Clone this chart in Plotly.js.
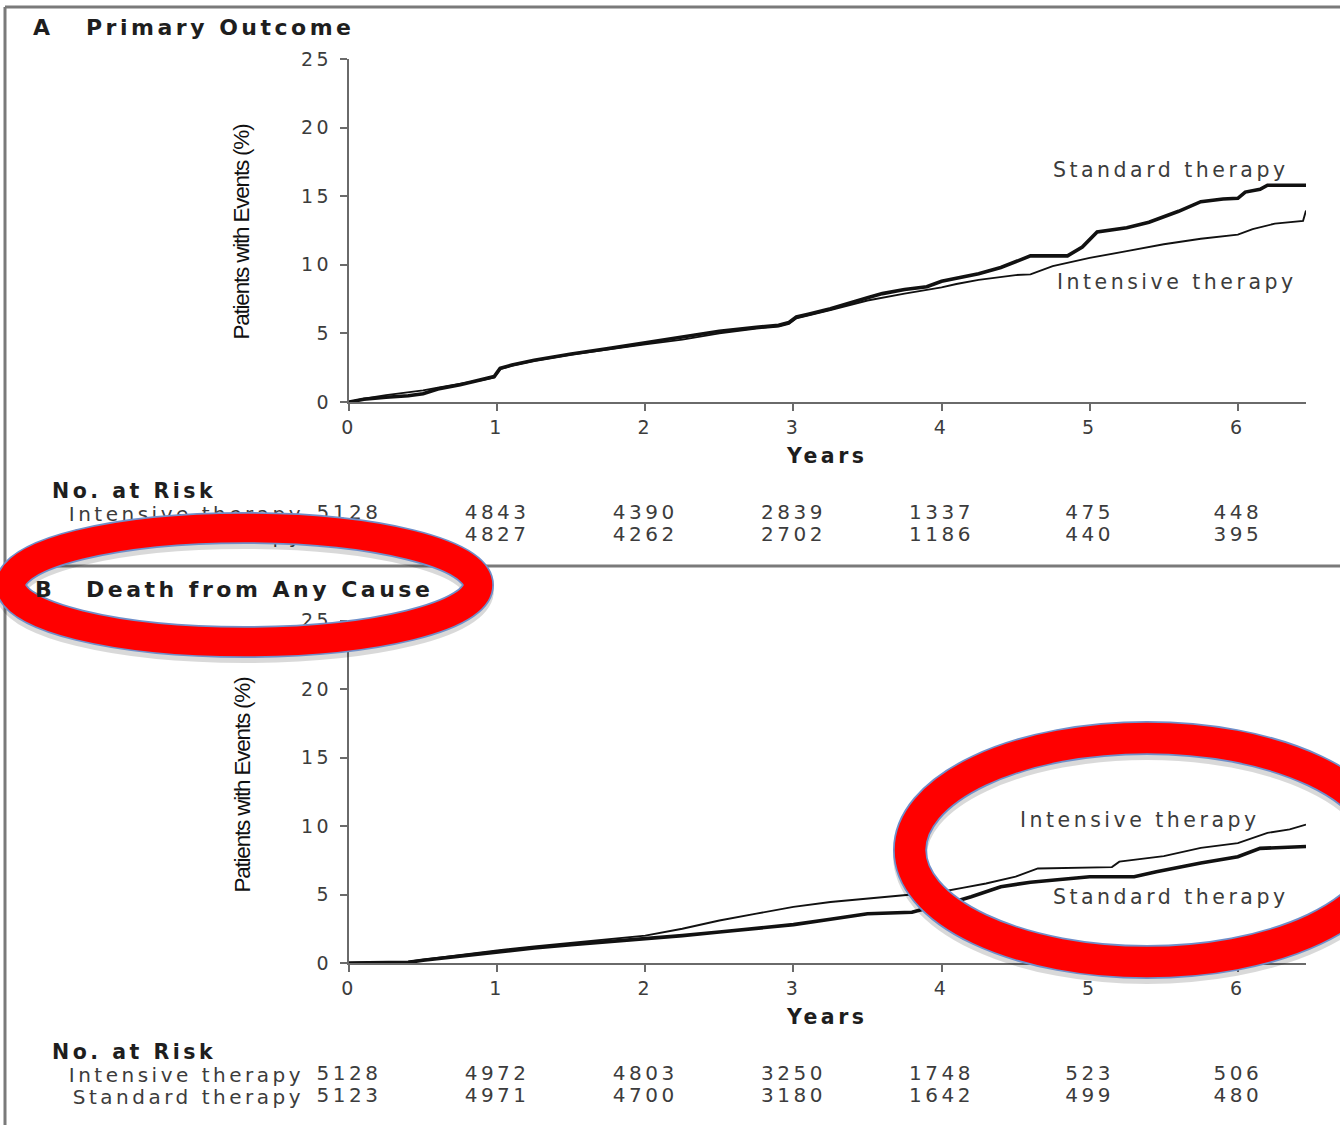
<!DOCTYPE html>
<html>
<head>
<meta charset="utf-8">
<script src="https://cdn.plot.ly/plotly-3.0.1.min.js"></script>
<style>
  html, body { margin: 0; padding: 0; background: #fff; }
  #chart { width: 1340px; height: 1125px; }
  svg text { letter-spacing: 3.5px; }
  .annotation[data-index="0"] text, .annotation[data-index="1"] text { letter-spacing: -1.2px; }
</style>
</head>
<body>
<div id="chart"></div>
<script>
// ---------- Data ----------
const panelTitles = ['Primary Outcome', 'Death from Any Cause'];
const groupNames = ['Intensive therapy', 'Standard therapy'];
const yTitle = 'Patients with Events (%)';
const xTitle = 'Years';
const xTicks = [0, 1, 2, 3, 4, 5, 6];
const yTicks = [0, 5, 10, 15, 20, 25];

// Panel A: Primary outcome (cumulative %)
const aStdYears = [0, 0.1, 0.25, 0.4, 0.5, 0.6, 0.75, 0.9, 0.98, 1.02, 1.1, 1.25, 1.4, 1.5, 1.75, 2.0, 2.25, 2.5, 2.75, 2.9, 2.97, 3.02, 3.1, 3.25, 3.5, 3.6, 3.75, 3.9, 4.0, 4.1, 4.25, 4.4, 4.5, 4.6, 4.85, 4.95, 5.05, 5.25, 5.4, 5.5, 5.6, 5.75, 5.9, 6.0, 6.05, 6.15, 6.2, 6.46];
const aStdPct   = [0, 0.2, 0.35, 0.45, 0.6, 0.95, 1.25, 1.6, 1.85, 2.45, 2.7, 3.05, 3.35, 3.5, 3.9, 4.3, 4.7, 5.15, 5.45, 5.6, 5.8, 6.2, 6.4, 6.8, 7.6, 7.9, 8.2, 8.4, 8.8, 9.0, 9.35, 9.8, 10.2, 10.65, 10.65, 11.3, 12.4, 12.7, 13.1, 13.5, 13.9, 14.6, 14.8, 14.85, 15.3, 15.5, 15.8, 15.8];
const aIntYears = [0, 0.1, 0.25, 0.4, 0.5, 0.6, 0.75, 0.9, 0.98, 1.02, 1.1, 1.25, 1.5, 1.75, 2.0, 2.25, 2.5, 2.75, 2.9, 2.97, 3.02, 3.25, 3.5, 3.75, 4.0, 4.1, 4.25, 4.5, 4.6, 4.75, 5.0, 5.25, 5.5, 5.75, 6.0, 6.1, 6.25, 6.44, 6.46];
const aIntPct   = [0, 0.25, 0.5, 0.7, 0.85, 1.05, 1.3, 1.6, 1.8, 2.4, 2.65, 3.0, 3.45, 3.85, 4.2, 4.55, 5.0, 5.35, 5.5, 5.7, 6.1, 6.7, 7.4, 7.9, 8.35, 8.6, 8.9, 9.25, 9.3, 9.9, 10.5, 11.0, 11.5, 11.9, 12.2, 12.6, 13.0, 13.2, 13.95];

// Panel B: Death from any cause (cumulative %)
const bIntYears = [0, 0.4, 0.5, 0.75, 1.0, 1.25, 1.5, 1.75, 2.0, 2.25, 2.5, 2.75, 3.0, 3.25, 3.5, 3.75, 4.0, 4.15, 4.3, 4.5, 4.65, 5.15, 5.2, 5.5, 5.75, 6.0, 6.2, 6.35, 6.46];
const bIntPct   = [0, 0.1, 0.25, 0.6, 0.92, 1.2, 1.48, 1.75, 2.0, 2.5, 3.1, 3.6, 4.1, 4.45, 4.7, 5.0, 5.2, 5.5, 5.8, 6.3, 6.9, 7.0, 7.4, 7.8, 8.4, 8.75, 9.5, 9.75, 10.1];
const bStdYears = [0, 0.4, 0.5, 0.75, 1.0, 1.25, 1.5, 1.75, 2.0, 2.25, 2.5, 2.75, 3.0, 3.25, 3.5, 3.8, 3.9, 4.0, 4.2, 4.4, 4.6, 5.0, 5.3, 5.45, 5.75, 6.0, 6.15, 6.46];
const bStdPct   = [0, 0.05, 0.2, 0.5, 0.85, 1.1, 1.34, 1.55, 1.73, 2.0, 2.26, 2.5, 2.8, 3.2, 3.6, 3.7, 4.0, 4.2, 4.84, 5.57, 5.9, 6.3, 6.3, 6.66, 7.3, 7.76, 8.37, 8.5];

// Numbers at risk
const riskYears = [0, 1, 2, 3, 4, 5, 6];
const aRiskInt = [5128, 4843, 4390, 2839, 1337, 475, 448];
const aRiskStd = [5123, 4827, 4262, 2702, 1186, 440, 395];
const bRiskInt = [5128, 4972, 4803, 3250, 1748, 523, 506];
const bRiskStd = [5123, 4971, 4700, 3180, 1642, 499, 480];

// ---------- Styling ----------
const W = 1340, H = 1125;
const px = v => v / W;
const py = v => 1 - v / H;
const FONT = 'DejaVu Sans, Verdana, sans-serif';
const TXT = '#3c3c3c';
const AXC = '#6a6a6a';
const XDOM = [px(349), px(1306)];
const XRANGE = [0, 6.46];

function lineTrace(x, y, xa, ya, width) {
  return { type: 'scatter', mode: 'lines', x: x, y: y, xaxis: xa, yaxis: ya,
           line: { color: '#111', width: width, shape: 'linear' }, hoverinfo: 'skip', showlegend: false };
}
function riskTrace(vals, row, xa, ya) {
  return { type: 'scatter', mode: 'text', x: riskYears, y: riskYears.map(() => row), text: vals.map(String),
           xaxis: xa, yaxis: ya, textposition: 'middle center', cliponaxis: false,
           textfont: { family: FONT, size: 20, color: TXT }, hoverinfo: 'skip', showlegend: false };
}

const traces = [
  lineTrace(aIntYears, aIntPct, 'x', 'y', 1.9),
  lineTrace(aStdYears, aStdPct, 'x', 'y', 3.6),
  lineTrace(bIntYears, bIntPct, 'x2', 'y2', 1.9),
  lineTrace(bStdYears, bStdPct, 'x2', 'y2', 3.6),
  riskTrace(aRiskInt, groupNames[0], 'x3', 'y3'),
  riskTrace(aRiskStd, groupNames[1], 'x3', 'y3'),
  riskTrace(bRiskInt, groupNames[0], 'x4', 'y4'),
  riskTrace(bRiskStd, groupNames[1], 'x4', 'y4')
];

function plotX(anchor) {
  return { domain: XDOM, anchor: anchor, range: XRANGE, tickvals: xTicks, ticks: 'outside', ticklen: 7, tickwidth: 2,
           tickcolor: AXC, showline: true, linecolor: AXC, linewidth: 2, showgrid: false, zeroline: false,
           tickfont: { family: FONT, size: 19, color: TXT }, fixedrange: true };
}
function plotY(dom, anchor) {
  return { domain: dom, anchor: anchor, range: [0, 25], tickvals: yTicks, ticks: 'outside', ticklen: 7, tickwidth: 2,
           tickcolor: AXC, showline: true, linecolor: AXC, linewidth: 2, showgrid: false, zeroline: false,
           tickfont: { family: FONT, size: 19, color: TXT }, ticklabelstandoff: 4, fixedrange: true };
}
function riskX(anchor) {
  return { domain: XDOM, anchor: anchor, range: XRANGE, visible: false, fixedrange: true };
}
function riskY(dom, anchor) {
  return { domain: dom, anchor: anchor, type: 'category', categoryarray: [groupNames[1], groupNames[0]],
           categoryorder: 'array', range: [-0.5, 1.5], tickmode: 'array', tickvals: [groupNames[1], groupNames[0]],
           showline: false, showgrid: false, zeroline: false,
           ticks: '', tickfont: { family: FONT, size: 20, color: TXT }, ticklabelstandoff: 44, fixedrange: true };
}

function ann(text, x, y, opts) {
  return Object.assign({ text: text, x: x, y: y, xref: 'paper', yref: 'paper', showarrow: false,
                         xanchor: 'center', yanchor: 'middle', font: { family: FONT, size: 20.5, color: TXT } }, opts || {});
}
const bold = (size) => ({ family: FONT, size: size, color: '#1e1e1e', weight: 'bold' });
const narrow = { family: 'Liberation Sans, Arial, sans-serif', size: 22.5, color: '#111' };

const annotations = [
  ann(yTitle, px(242), py(232), { textangle: -90, font: narrow }),
  ann(yTitle, px(242), py(785), { textangle: -90, font: narrow }),
  ann('<b>A</b>', px(31), py(28), { xanchor: 'left', font: bold(22) }),
  ann('<b>' + panelTitles[0] + '</b>', px(84), py(28), { xanchor: 'left', font: bold(22) }),
  ann('<b>B</b>', px(33), py(589), { xanchor: 'left', font: bold(22) }),
  ann('<b>' + panelTitles[1] + '</b>', px(84), py(589), { xanchor: 'left', font: bold(22) }),
  ann('<b>' + xTitle + '</b>', px(827), py(456), { font: bold(20.5) }),
  ann('<b>' + xTitle + '</b>', px(827), py(1017), { font: bold(20.5) }),
  ann(groupNames[1], px(1171), py(170)),
  ann(groupNames[0], px(1177), py(282)),
  ann(groupNames[0], px(1140), py(820)),
  ann(groupNames[1], px(1171), py(897)),
  ann('<b>No. at Risk</b>', px(50), py(491), { xanchor: 'left', font: bold(20.5) }),
  ann('<b>No. at Risk</b>', px(50), py(1052), { xanchor: 'left', font: bold(20.5) })
];

function frameLine(x0, y0, x1, y1) {
  return { type: 'line', xref: 'paper', yref: 'paper', x0: px(x0), y0: py(y0), x1: px(x1), y1: py(y1),
           line: { color: '#7a7a7a', width: 3 }, layer: 'below' };
}
function ring(x0, y0, x1, y1, color, width, dy) {
  dy = dy || 0;
  return { type: 'circle', xref: 'paper', yref: 'paper', x0: px(x0), x1: px(x1), y0: py(y1 + dy), y1: py(y0 + dy),
           line: { color: color, width: width }, fillcolor: 'rgba(0,0,0,0)', layer: 'above' };
}

const shapes = [
  frameLine(5, 7, 1340, 7),
  frameLine(5, 7, 5, 1125),
  frameLine(5, 566, 1340, 566),
  // highlight ring 1 (around panel B title)
  ring(11, 528, 478, 642, 'rgba(0,0,0,0.15)', 32, 5),
  ring(11, 528, 478, 642, '#6f8fca', 32),
  ring(11, 528, 478, 642, '#ff0000', 28.5),
  // highlight ring 2 (around curve labels of panel B)
  ring(910, 738, 1384, 962, 'rgba(0,0,0,0.15)', 34, 5),
  ring(910, 738, 1384, 962, '#6f8fca', 34),
  ring(910, 738, 1384, 962, '#ff0000', 30.5)
];

const layout = {
  width: W, height: H,
  margin: { l: 0, r: 0, t: 0, b: 0 },
  paper_bgcolor: '#ffffff', plot_bgcolor: 'rgba(0,0,0,0)',
  showlegend: false,
  xaxis: plotX('y'),
  yaxis: plotY([py(402), py(59)], 'x'),
  xaxis2: plotX('y2'),
  yaxis2: plotY([py(963), py(620.5)], 'x2'),
  xaxis3: riskX('y3'),
  yaxis3: riskY([py(547), py(503)], 'x3'),
  xaxis4: riskX('y4'),
  yaxis4: riskY([py(1108), py(1064)], 'x4'),
  annotations: annotations,
  shapes: shapes
};

Plotly.newPlot('chart', traces, layout, { displayModeBar: false, staticPlot: true });
</script>
</body>
</html>
